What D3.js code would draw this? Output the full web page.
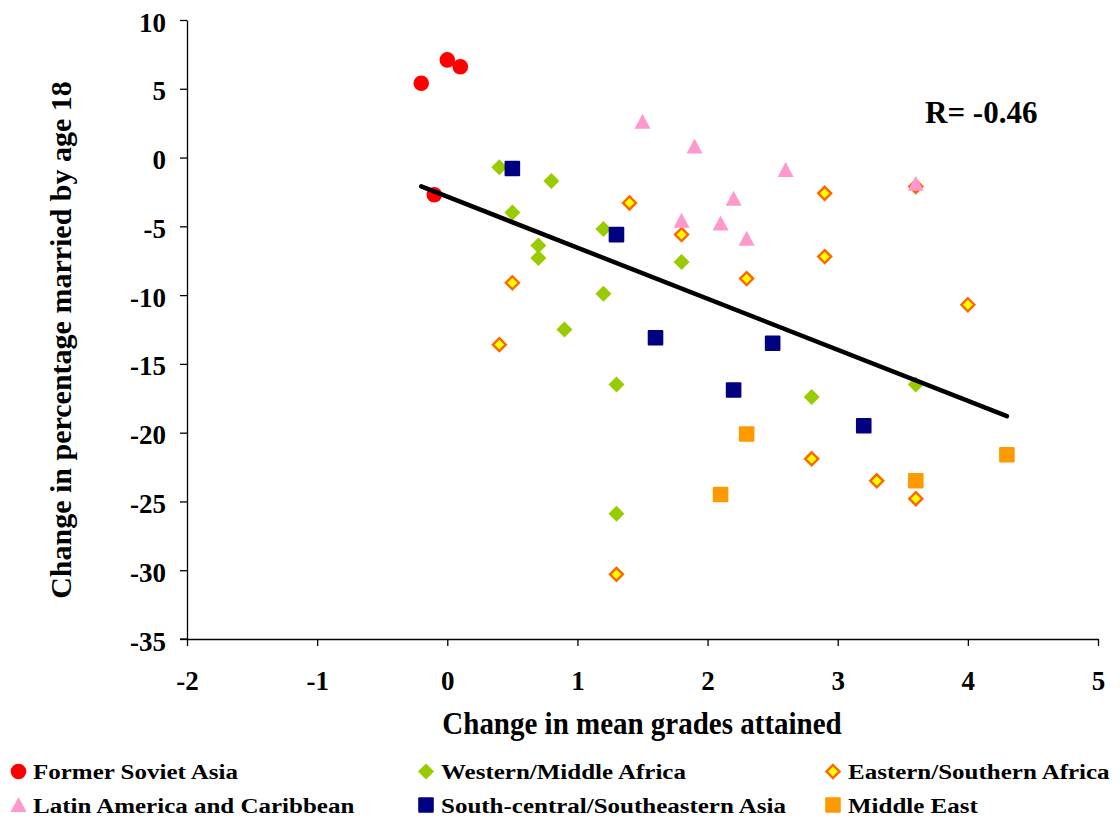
<!DOCTYPE html>
<html>
<head>
<meta charset="utf-8">
<script src="https://cdn.jsdelivr.net/npm/d3@7"></script>
<style>
  body { margin: 0; background: #fff; }
</style>
</head>
<body>
<div id="chart"></div>
<script>
// data
const sovietX = [-0.2, 0.0, 0.1, -0.1];
const sovietY = [5.4, 7.1, 6.6, -2.7];

const westX = [0.4, 0.5, 0.8, 0.7, 0.7, 1.2, 1.2, 0.9, 1.3, 1.8, 2.8, 3.6, 1.3];
const westY = [-0.7, -4.0, -1.7, -6.4, -7.3, -5.2, -9.9, -12.5, -16.5, -7.6, -17.4, -16.5, -25.9];

const eastX = [1.4, 1.8, 2.9, 2.9, 2.3, 0.5, 0.4, 4.0, 3.6, 2.8, 3.3, 3.6, 1.3];
const eastY = [-3.3, -5.6, -2.6, -7.2, -8.8, -9.1, -13.6, -10.7, -2.1, -21.9, -23.5, -24.8, -30.3];

const latinX = [1.5, 1.9, 2.6, 2.2, 1.8, 2.1, 2.3, 3.6];
const latinY = [2.6, 0.8, -0.9, -3.0, -4.6, -4.8, -5.9, -1.9];

const scAsiaX = [0.5, 1.3, 1.6, 2.5, 2.2, 3.2];
const scAsiaY = [-0.8, -5.6, -13.1, -13.5, -16.9, -19.5];

const meX = [2.3, 2.1, 3.6, 4.3];
const meY = [-20.1, -24.5, -23.5, -21.6];

const trendX = [-0.2, 4.3];
const trendY = [-2.1, -18.8];

const xTicks = [-2, -1, 0, 1, 2, 3, 4, 5];
const yTicks = [10, 5, 0, -5, -10, -15, -20, -25, -30, -35];

const series = [
  { name: "Former Soviet Asia", xs: sovietX, ys: sovietY, shape: "circle" },
  { name: "Western/Middle Africa", xs: westX, ys: westY, shape: "diamond" },
  { name: "Eastern/Southern Africa", xs: eastX, ys: eastY, shape: "hollowDiamond" },
  { name: "Latin America and Caribbean", xs: latinX, ys: latinY, shape: "triangle" },
  { name: "South-central/Southeastern Asia", xs: scAsiaX, ys: scAsiaY, shape: "navySquare" },
  { name: "Middle East", xs: meX, ys: meY, shape: "orangeSquare" }
];

const FONT = "'Liberation Serif', Tinos, 'Times New Roman', 'DejaVu Serif', serif";

const W = 1120, H = 820;
const margin = { top: 20, right: 22, bottom: 181, left: 187 };
const width = W - margin.left - margin.right;
const height = H - margin.top - margin.bottom;

const svg = d3.select("#chart").append("svg")
  .attr("width", W)
  .attr("height", H)
  .attr("font-family", FONT)
  .attr("font-weight", "bold");

const g = svg.append("g")
  .attr("transform", `translate(${margin.left},${margin.top})`);

const x = d3.scaleLinear().domain([-2, 5]).range([0, width]);
const y = d3.scaleLinear().domain([-35, 10]).range([height, 0]);

// axes
const xAxis = g.append("g")
  .attr("transform", `translate(0,${height})`)
  .call(d3.axisBottom(x).tickValues(xTicks).tickFormat(d => String(d))
    .tickSize(7).tickSizeOuter(0));
const yAxis = g.append("g")
  .call(d3.axisLeft(y).tickValues(yTicks).tickFormat(d => String(d))
    .tickSize(7).tickSizeOuter(0));

[xAxis, yAxis].forEach(a => {
  a.attr("font-family", FONT).attr("font-weight", "bold");
  a.select(".domain").attr("stroke", "#000").attr("stroke-width", 1.3);
  a.selectAll(".tick line").attr("stroke", "#000").attr("stroke-width", 1.3);
  a.selectAll(".tick text").attr("font-size", "27px").attr("fill", "#000");
});
xAxis.selectAll(".tick text").attr("y", 51).attr("dy", null);
yAxis.selectAll(".tick text").attr("x", -21).attr("dy", null).attr("y", 11);

// x axis line pokes a little left of the y axis
g.append("line")
  .attr("x1", -7).attr("x2", 0)
  .attr("y1", height).attr("y2", height)
  .attr("stroke", "#000").attr("stroke-width", 1.3);

// marker drawing
function drawMarker(sel, shape) {
  if (shape === "circle") {
    sel.append("circle").attr("r", 7.8).attr("fill", "#FF0000");
  } else if (shape === "diamond") {
    sel.append("path").attr("d", "M0,-8L8,0L0,8L-8,0Z").attr("fill", "#99CC00");
  } else if (shape === "hollowDiamond") {
    sel.append("path").attr("d", "M0,-6.5L6.5,0L0,6.5L-6.5,0Z")
      .attr("fill", "#FFFF00").attr("stroke", "#FF6600").attr("stroke-width", 2.4);
  } else if (shape === "triangle") {
    sel.append("path").attr("d", "M0,-8L8,7L-8,7Z").attr("fill", "#FF99CC");
  } else if (shape === "navySquare") {
    sel.append("rect").attr("x", -7.8).attr("y", -7.8).attr("width", 15.6).attr("height", 15.6)
      .attr("rx", 1).attr("fill", "#000080");
  } else if (shape === "orangeSquare") {
    sel.append("rect").attr("x", -7.8).attr("y", -7.8).attr("width", 15.6).attr("height", 15.6)
      .attr("rx", 1).attr("fill", "#FF9900");
  }
}

// points, in drawing order like the original
const drawOrder = [0, 1, 4, 5, 2, 3];
drawOrder.forEach(i => {
  const s = series[i];
  const pts = s.xs.map((v, j) => [v, s.ys[j]]);
  g.append("g").selectAll("g")
    .data(pts)
    .join("g")
    .attr("transform", d => `translate(${x(d[0])},${y(d[1])})`)
    .each(function() { drawMarker(d3.select(this), s.shape); });
});

// trend line
g.append("line")
  .attr("x1", x(trendX[0])).attr("y1", y(trendY[0]))
  .attr("x2", x(trendX[1])).attr("y2", y(trendY[1]))
  .attr("stroke", "#000").attr("stroke-width", 4.5).attr("stroke-linecap", "round");

svg.append("text")
  .attr("x", 925)
  .attr("y", 123)
  .attr("font-size", "31px")
  .text("R= -0.46");

// axis titles (the original text is a little taller than wide)
svg.append("text")
  .attr("transform", `translate(642,734) scale(1,1.07)`)
  .attr("text-anchor", "middle")
  .attr("font-size", "29px")
  .text("Change in mean grades attained");

svg.append("text")
  .attr("transform", `translate(71,340) rotate(-90)`)
  .attr("text-anchor", "middle")
  .attr("font-size", "30px")
  .text("Change in percentage married by age 18");

// legend
const legendCols = [18.5, 426, 833];
const legendText = [33, 441, 848];
const legendRows = [771.5, 805];
const legend = svg.append("g");
series.forEach((s, i) => {
  const c = i % 3;
  const r = Math.floor(i / 3);
  const item = legend.append("g").attr("transform", `translate(${legendCols[c]},${legendRows[r]})`);
  drawMarker(item, s.shape);
  legend.append("text")
    .attr("transform", `translate(${legendText[c]},${legendRows[r] + 7.5}) scale(1,0.88)`)
    .attr("font-size", "25px")
    .text(s.name);
});
</script>
</body>
</html>
